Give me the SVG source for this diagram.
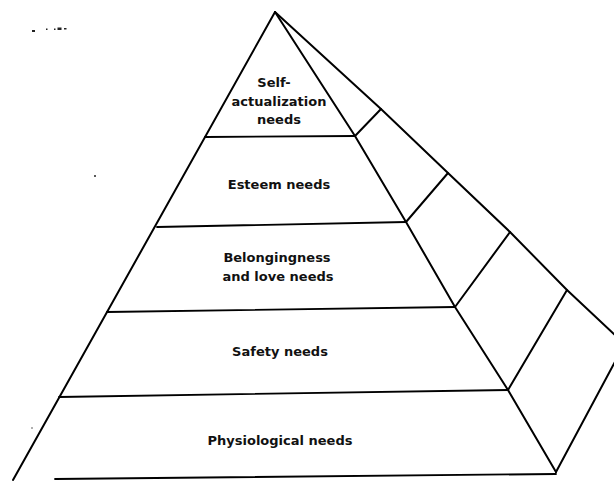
<svg xmlns="http://www.w3.org/2000/svg" width="614" height="481" viewBox="0 0 614 481">
  <style>
    .edge { fill: none; stroke: #000; stroke-width: 2; stroke-linejoin: round; stroke-linecap: round; }
    .rule { fill: none; stroke: #000; stroke-width: 1.8; stroke-linecap: round; }
    .lbl { font-family: "DejaVu Sans", "Liberation Sans", sans-serif; font-weight: bold; font-size: 13px; fill: #111; text-anchor: middle; }
    .speck { fill: #222; }
  </style>
  <rect width="614" height="481" fill="#fff"/>

  <g id="connectors">
    <!-- left front edge -->
    <path class="edge" d="M275,12 L13,480"/>
    <!-- front-right edge -->
    <path class="edge" d="M275,12 L355,136 L406,222 L455,307 L508,390 L556,472"/>
    <!-- back edge -->
    <path class="edge" d="M275,12 L381,109 L448,173 L510,232 L567,290 L616,336"/>
    <!-- back-bottom edge -->
    <path class="edge" d="M556,472 L616,360"/>
    <!-- side-face dividers -->
    <path class="edge" d="M355,136 L381,109"/>
    <path class="edge" d="M406,222 L448,173"/>
    <path class="edge" d="M455,307 L510,232"/>
    <path class="edge" d="M508,390 L567,290"/>
    <!-- tier dividers -->
    <path class="rule" d="M205,137 L355,136"/>
    <path class="rule" d="M157,227 L406,222"/>
    <path class="rule" d="M107,312 L455,307"/>
    <path class="rule" d="M59,397 L508,390"/>
    <path class="rule" d="M55,479 L556,474"/>
  </g>

  <g id="self-actualization">
    <text class="lbl" x="274" y="87">Self-</text>
    <text class="lbl" x="279" y="106">actualization</text>
    <text class="lbl" x="279" y="124">needs</text>
  </g>
  <g id="esteem">
    <text class="lbl" x="279" y="189">Esteem needs</text>
  </g>
  <g id="belongingness">
    <text class="lbl" x="277" y="262">Belongingness</text>
    <text class="lbl" x="278" y="281">and love needs</text>
  </g>
  <g id="safety">
    <text class="lbl" x="280" y="356">Safety needs</text>
  </g>
  <g id="physiological">
    <text class="lbl" x="280" y="445">Physiological needs</text>
  </g>

  <g id="specks">
    <rect class="speck" x="32" y="30" width="3" height="2"/>
    <rect class="speck" x="46" y="28.5" width="1.5" height="1.5"/>
    <rect class="speck" x="54" y="28.5" width="1.5" height="1.5"/>
    <rect class="speck" x="57.5" y="27.5" width="4" height="2.5"/>
    <rect class="speck" x="64" y="28" width="2.5" height="1.5"/>
    <circle class="speck" cx="95" cy="176" r="1"/>
    <circle class="speck" cx="32" cy="428" r="0.7"/>
  </g>
</svg>
